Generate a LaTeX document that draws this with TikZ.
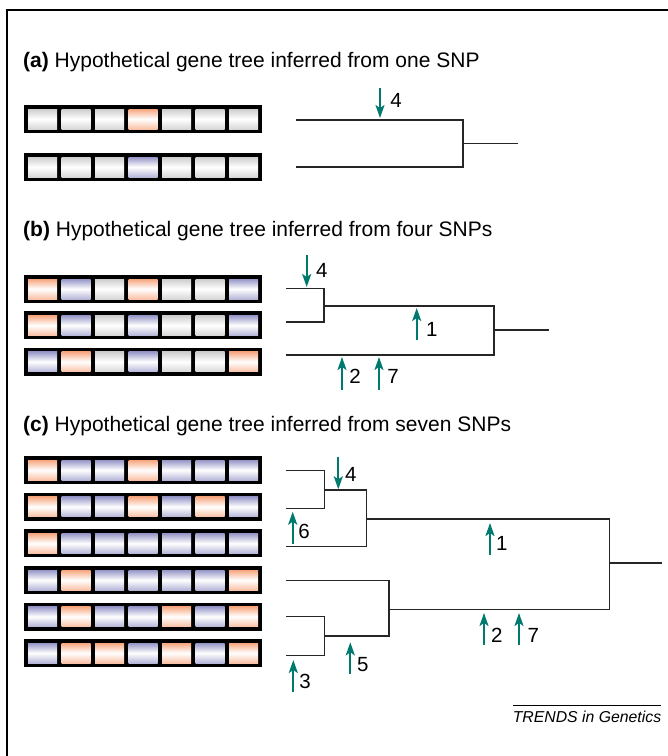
\documentclass[tikz,border=0pt]{standalone}
\usepackage{fontspec}
\setmainfont{Liberation Sans}
\usetikzlibrary{arrows.meta}
\definecolor{snpor}{RGB}{246,166,126}
\definecolor{snpbl}{RGB}{150,150,200}
\definecolor{snpgr}{RGB}{205,205,205}
\definecolor{snpteal}{RGB}{0,122,110}
\newcommand\snprow[2]{%
  \fill[black] (24,#1) rectangle (262,#1+28);
  \foreach \c [count=\i from 0] in {#2} {
    \fill[cell\c] (28+\i*33.5,#1+4) rectangle ++(29,20);
  }%
}
\begin{document}
\begin{tikzpicture}[x=1pt,y=-1pt,
  cellO/.style={top color=snpor, bottom color=snpor!70, middle color=white},
  cellB/.style={top color=snpbl, bottom color=snpbl!70, middle color=white},
  cellG/.style={top color=snpgr, bottom color=snpgr!80, middle color=white},
  branch/.style={line width=1.4pt, draw=black!85},
  mut/.style={line width=2pt, draw=snpteal, -{Stealth[length=13pt,width=9pt,inset=3pt]}},
  lbl/.style={font=\fontsize{20.5}{24}\selectfont, inner sep=0pt},
  ttl/.style={font=\fontsize{21}{24}\selectfont, anchor=base west, inner sep=0pt}]
\useasboundingbox (0,0) rectangle (668,756);
% frame
\draw[line width=1.3pt] (7,756) -- (7,10) -- (668,10);

% ---------- (a) ----------
\node[ttl] (ta) at (23,67) {\textbf{(a)} Hypothetical gene tree inferred from one SNP};
\snprow{105}{G,G,G,O,G,G,G}
\snprow{153}{G,G,G,B,G,G,G}
\coordinate (aL1) at (296,120);
\coordinate (aL2) at (296,167);
\coordinate (aN) at (463,143.5);
\coordinate (aR) at (518,143.5);
\draw[branch] (aL1) -| (aN) |- (aL2);
\draw[branch] (aN) -- (aR);
\coordinate (am4s) at (380,88); \coordinate (am4e) at (380,118);
\draw[mut] (am4s) -- (am4e);
\node[lbl] (al4) at (396,100) {4};

% ---------- (b) ----------
\node[ttl] (tb) at (23,236) {\textbf{(b)} Hypothetical gene tree inferred from four SNPs};
\snprow{275}{O,B,G,O,G,G,B}
\snprow{311.3}{O,B,G,B,G,G,B}
\snprow{347.7}{B,O,G,B,G,G,O}
\coordinate (bL1) at (286,288.7);
\coordinate (bL2) at (286,322);
\coordinate (bL3) at (286,355);
\coordinate (bN1) at (324,306);
\coordinate (bN2) at (494,330);
\coordinate (bR) at (549,330);
\draw[branch] (bL1) -| (bN1) |- (bL2);
\draw[branch] (bN1) -| (bN2) |- (bL3);
\draw[branch] (bN2) -- (bR);
\coordinate (bm4s) at (306.7,255); \coordinate (bm4e) at (306.7,287);
\draw[mut] (bm4s) -- (bm4e);
\node[lbl] (bl4) at (321.7,270.7) {4};
\coordinate (bm1s) at (416.7,340); \coordinate (bm1e) at (416.7,308);
\draw[mut] (bm1s) -- (bm1e);
\node[lbl] (bl1) at (431.7,329) {1};
\coordinate (bm2s) at (342,390); \coordinate (bm2e) at (342,357);
\draw[mut] (bm2s) -- (bm2e);
\node[lbl] (bl2) at (355,376.7) {2};
\coordinate (bm7s) at (379,390); \coordinate (bm7e) at (379,357);
\draw[mut] (bm7s) -- (bm7e);
\node[lbl] (bl7) at (393,376.7) {7};

% ---------- (c) ----------
\node[ttl] (tc) at (23,431) {\textbf{(c)} Hypothetical gene tree inferred from seven SNPs};
\snprow{456}{O,B,B,O,B,B,B}
\snprow{492.7}{O,B,B,O,B,O,B}
\snprow{529.3}{O,B,B,B,B,B,B}
\snprow{566}{B,O,B,B,B,B,O}
\snprow{602.5}{B,O,B,B,O,B,O}
\snprow{639}{B,O,O,B,O,B,O}
\coordinate (cL1) at (286,470.7);
\coordinate (cL2) at (286,508.7);
\coordinate (cL3) at (286,546.3);
\coordinate (cL4) at (286,580.7);
\coordinate (cL5) at (286,616.7);
\coordinate (cL6) at (286,655.7);
\coordinate (cN1) at (324.3,490);
\coordinate (cN2) at (366.7,519);
\coordinate (cN3) at (324.3,636);
\coordinate (cN4) at (389,609.7);
\coordinate (cN5) at (609.3,563);
\coordinate (cR) at (662,563);
\draw[branch] (cL1) -| (cN1) |- (cL2);
\draw[branch] (cN1) -| (cN2) |- (cL3);
\draw[branch] (cL5) -| (cN3) |- (cL6);
\draw[branch] (cL4) -| (cN4) |- (cN3);
\draw[branch] (cN2) -| (cN5) |- (cN4);
\draw[branch] (cN5) -- (cR);
\coordinate (cm4s) at (338.3,457); \coordinate (cm4e) at (338.3,489.3);
\draw[mut] (cm4s) -- (cm4e);
\node[lbl] (cl4) at (350.7,474) {4};
\coordinate (cm6s) at (292.7,544); \coordinate (cm6e) at (292.7,511.7);
\draw[mut] (cm6s) -- (cm6e);
\node[lbl] (cl6) at (304,531) {6};
\coordinate (cm1s) at (490,555); \coordinate (cm1e) at (490,523);
\draw[mut] (cm1s) -- (cm1e);
\node[lbl] (cl1) at (501.7,543.3) {1};
\coordinate (cm2s) at (484,645); \coordinate (cm2e) at (484,613);
\draw[mut] (cm2s) -- (cm2e);
\node[lbl] (cl2) at (496.7,635) {2};
\coordinate (cm7s) at (519,645); \coordinate (cm7e) at (519,613);
\draw[mut] (cm7s) -- (cm7e);
\node[lbl] (cl7) at (533.3,635) {7};
\coordinate (cm5s) at (350.3,674); \coordinate (cm5e) at (350.3,642.3);
\draw[mut] (cm5s) -- (cm5e);
\node[lbl] (cl5) at (362.7,664.3) {5};
\coordinate (cm3s) at (293.3,691.7); \coordinate (cm3e) at (293.3,660);
\draw[mut] (cm3s) -- (cm3e);
\node[lbl] (cl3) at (305,681.7) {3};

% footer
\coordinate (fl) at (513,705); \coordinate (fr) at (661,705);
\draw[line width=1pt] (fl) -- (fr);
\node[font=\fontsize{15.8}{18}\selectfont\itshape, inner sep=0pt] (foot) at (587,717) {TRENDS in Genetics};
\end{tikzpicture}
\end{document}
